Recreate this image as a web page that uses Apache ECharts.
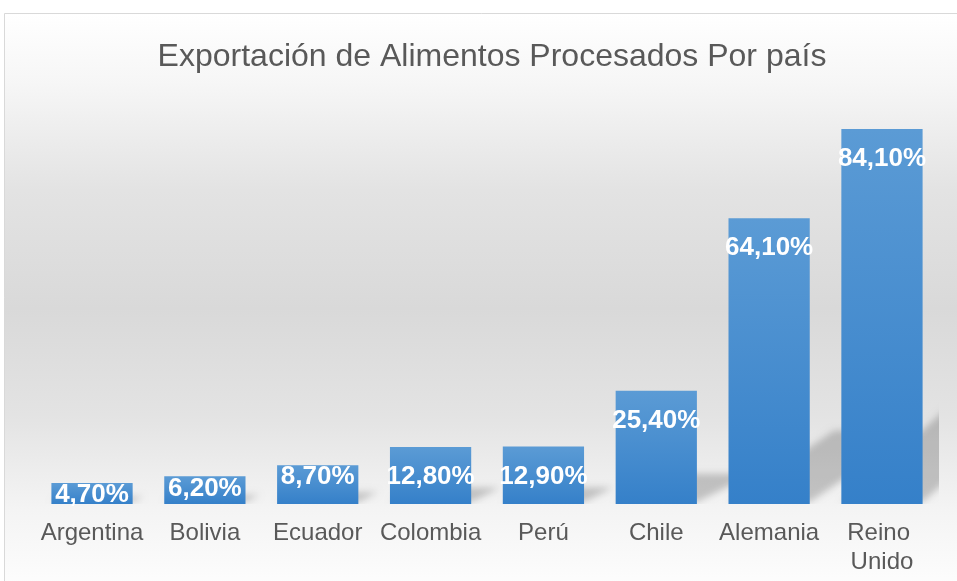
<!DOCTYPE html>
<html>
<head>
<meta charset="utf-8">
<script src="https://cdn.jsdelivr.net/npm/echarts@6/dist/echarts.min.js"></script>
<style>html,body{margin:0;padding:0;background:#fff}#c{width:957px;height:581px}</style>
</head>
<body>
<div id="c"></div>
<script>
const titleText = 'Exportación de Alimentos Procesados Por país';
const categories = ['Argentina', 'Bolivia', 'Ecuador', 'Colombia', 'Perú', 'Chile', 'Alemania', 'Reino Unido'];
const values = [4.7, 6.2, 8.7, 12.8, 12.9, 25.4, 64.1, 84.1];
const yMin = 0, yMax = 90;

const chart = echarts.init(document.getElementById('c'), null, {renderer: 'canvas'});
const FONT = '"Liberation Sans", Arial, sans-serif';
const BAR_RATIO = 0.72;
const SHIFT = 3000;

const barData = values.map(v => ({
  value: v,
  label: {distance: v < 11 ? -1 : 17}
}));

const option = {
  animation: false,
  graphic: [{
    type: 'rect', z: -10, silent: true,
    shape: {x: 4.5, y: 13.5, width: 970, height: 590},
    style: {
      fill: new echarts.graphic.LinearGradient(0, 0, 0, 1, [
        {offset: 0, color: '#ffffff'},
        {offset: 0.12, color: '#f6f6f6'},
        {offset: 0.3, color: '#e3e3e3'},
        {offset: 0.5, color: '#d9d9d9'},
        {offset: 0.68, color: '#e3e3e3'},
        {offset: 0.84, color: '#f4f4f4'},
        {offset: 1, color: '#ffffff'}
      ]),
      stroke: '#d9d9d9', lineWidth: 1
    }
  }],
  title: {
    text: titleText,
    left: 487, top: 36, textAlign: 'center',
    textStyle: {fontFamily: FONT, fontSize: 32, fontWeight: 'normal', color: '#595959'}
  },
  grid: {left: 35.6, right: 18.6, top: 102.7, bottom: 77, containLabel: false},
  xAxis: {
    type: 'category', data: categories,
    axisLine: {show: false}, axisTick: {show: false},
    axisLabel: {fontFamily: FONT, fontSize: 24, color: '#595959', margin: 15,
      width: 110, overflow: 'break', lineHeight: 29, interval: 0}
  },
  yAxis: {type: 'value', min: yMin, max: yMax, show: false, splitLine: {show: false}},
  series: [{
    type: 'custom', z: 1, clip: true, silent: true,
    data: values.map((v, i) => [i, v]),
    renderItem: function (params, api) {
      const idx = api.value(0), val = api.value(1);
      const base = api.coord([idx, 0]);
      const top = api.coord([idx, val]);
      const bw = api.size([1, 0])[0] * BAR_RATIO;
      const L = base[0] - bw / 2, R = base[0] + bw / 2;
      const h = base[1] - top[1];
      const b = 0.25 * h;
      const a = Math.min(0.5 * h, 1.3 * bw);
      const y0 = base[1] - 2;
      return {
        type: 'polygon',
        shape: {points: [[L - SHIFT, y0], [R - SHIFT, y0], [R + a - SHIFT, y0 - b], [L + a - SHIFT, y0 - b]]},
        style: {
          fill: '#000',
          shadowBlur: 7, shadowOffsetX: SHIFT, shadowOffsetY: 0,
          shadowColor: 'rgba(0,0,0,0.2)'
        }
      };
    }
  }, {
    type: 'bar', z: 3,
    data: barData,
    barWidth: (BAR_RATIO * 100) + '%',
    itemStyle: {
      color: new echarts.graphic.LinearGradient(0, 0, 0, 1, [
        {offset: 0, color: '#5b9bd5'},
        {offset: 1, color: '#3580c9'}
      ])
    },
    label: {
      show: true, position: 'insideTop',
      fontFamily: FONT, fontSize: 26, fontWeight: 'bold', color: '#ffffff',
      formatter: p => p.value.toFixed(2).replace('.', ',') + '%'
    }
  }]
};
chart.setOption(option);
</script>
</body>
</html>
